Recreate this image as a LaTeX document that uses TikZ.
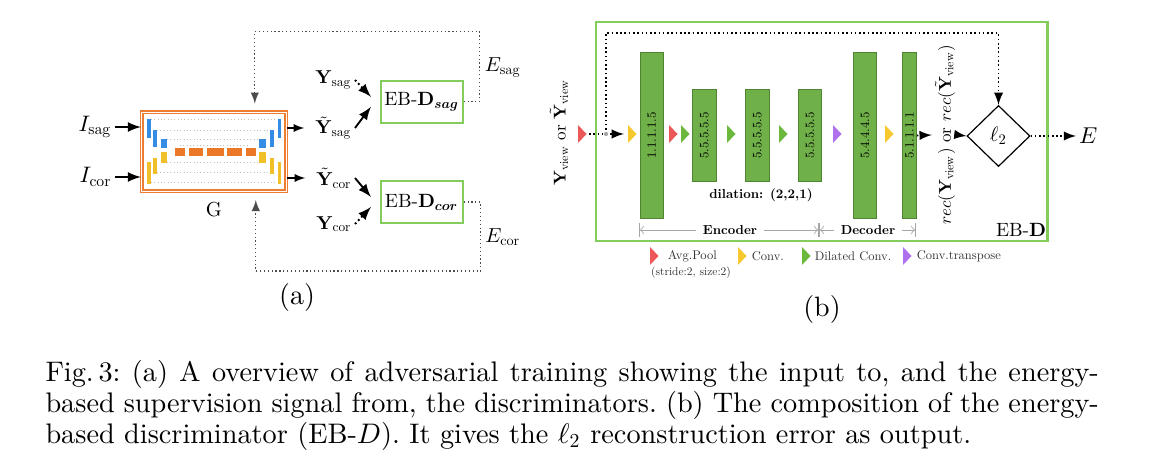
\RequirePackage{fix-cm}
\documentclass[tikz,border=0pt]{standalone}
\usepackage[no-math]{fontspec}
\setmainfont{lmroman10}[Extension=.otf,UprightFont=*-regular,BoldFont=*-bold,ItalicFont=*-italic,BoldItalicFont=*-bolditalic]
\usepackage{amsmath}
\usepackage{amssymb}
\usetikzlibrary{positioning}
\usetikzlibrary{calc}
\usetikzlibrary{shapes.geometric}

% scale the 10pt designs to every size
\DeclareFontShape{OT1}{cmr}{m}{n}{<-> cmr10}{}
\DeclareFontShape{OT1}{cmr}{bx}{n}{<-> cmbx10}{}
\DeclareFontShape{OML}{cmm}{m}{it}{<-> cmmi10}{}
\DeclareFontShape{OML}{cmm}{b}{it}{<-> cmmib10}{}
\DeclareFontShape{OMS}{cmsy}{m}{n}{<-> cmsy10}{}

\definecolor{gorange}{RGB}{237,125,49}
\definecolor{ublue}{RGB}{52,140,228}
\definecolor{uyellow}{RGB}{240,192,40}
\definecolor{uorange}{RGB}{234,120,38}
\definecolor{boxgreen}{RGB}{132,204,92}
\definecolor{barfill}{RGB}{112,176,72}
\definecolor{bardraw}{RGB}{78,132,50}
\definecolor{tred}{RGB}{236,88,88}
\definecolor{tyellow}{RGB}{246,200,46}
\definecolor{tgreen}{RGB}{108,184,60}
\definecolor{tpurple}{RGB}{176,112,236}

\newcommand{\fsz}[1]{\fontsize{#1}{#1}\selectfont}

\begin{document}
\begin{tikzpicture}[x=0.375pt,y=-0.375pt,
  lbl/.style={inner sep=1pt},
  ylbl/.style={inner sep=1pt,font=\fsz{7},anchor=east},
  elbl/.style={inner sep=1pt,font=\fsz{7.6}},
  panel/.style={inner sep=0pt,font=\fsz{10.5}},
  gbox/.style={draw=gorange,double=white,line width=0.55pt,double distance=0.3pt,minimum width=54.1pt,minimum height=29.6pt,inner sep=0pt},
  dbox/.style={draw=boxgreen,line width=0.8pt,minimum width=30.6pt,minimum height=15.6pt,inner sep=0pt,font=\fsz{7.2}},
  ebbox/.style={draw=boxgreen,line width=0.8pt,minimum width=169.3pt,minimum height=82pt,inner sep=0pt},
  bar/.style={rotate=90,draw=bardraw,fill=barfill,line width=0.3pt,minimum width=34.65pt,minimum height=8.75pt,inner sep=0pt,font=\fsz{4.8}},
  view/.style={rotate=90,inner sep=1pt,font=\fsz{6.4}},
  dimtxt/.style={inner sep=2.5pt,font=\fsz{4.9}\bfseries},
  leg/.style={inner sep=0.5pt,font=\fsz{4.7},text=black!80},
  legsm/.style={inner sep=0pt,font=\fsz{4.3},text=black!80},
  inarr/.style={-latex,line width=0.7pt},
  outarr/.style={-latex,line width=0.4pt,shorten >=3pt},
  solarr/.style={-latex,line width=0.7pt},
  dotarr/.style={-latex,line width=0.7pt,densely dotted},
  fbk/.style={-latex,line width=0.45pt,densely dotted,black!70,shorten >=3pt},
  dots/.style={-latex,line width=0.6pt,densely dotted},
  dim/.style={->|,line width=0.3pt,black!35},
  skip/.style={line width=0.25pt,black!25,densely dotted},
  tri/.pic={\fill[#1] (0,-9) -- (8.5,0) -- (0,9) -- cycle;}]
\useasboundingbox (0,0) rectangle (1176,476);

% (a) adversarial training
\node[lbl,anchor=east,font=\fsz{8.4}](Isag) at (115,127){$I_{\mathrm{sag}}$};
\node[lbl,anchor=east,font=\fsz{8.4}](Icor) at (115,177){$I_{\mathrm{cor}}$};
\node[gbox](G) at (213.8,151.8){};
\node[lbl,font=\fsz{7.6}](Glbl) at ($(G)+(0,58)$){G};
\node[ylbl](Ytsag) at (355,128){$\tilde{\mathbf{Y}}_{\mathrm{sag}}$};
\node[ylbl](Ysag) at ($(Ytsag.east)+(0,-48)$){$\mathbf{Y}_{\mathrm{sag}}$};
\node[ylbl](Ytcor) at ($(Ytsag.east)+(0,50)$){$\tilde{\mathbf{Y}}_{\mathrm{cor}}$};
\node[ylbl](Ycor) at ($(Ytsag.east)+(0,96)$){$\mathbf{Y}_{\mathrm{cor}}$};
\node[dbox](Dsag) at (421.8,101.8){EB-$\mathbf{D}_{\boldsymbol{sag}}$};
\node[dbox](Dcor) at ($(Dsag)+(0,100.2)$){EB-$\mathbf{D}_{\boldsymbol{cor}}$};
\node[elbl](Esag) at (503,67){$E_{\mathrm{sag}}$};
\node[elbl](Ecor) at ($(Esag)+(0,170)$){$E_{\mathrm{cor}}$};
\node[panel](pa) at (297,298){(a)};

% generator
\draw[skip] (151,119.5) -- (277,119.5);
\draw[skip] (157,130) -- (270,130);
\draw[skip] (167,139) -- (259,139);
\draw[skip] (180,145) -- (250,145);
\draw[skip] (167,162) -- (259,162);
\draw[skip] (157,172) -- (270,172);
\draw[skip] (151,182) -- (277,182);
\fill[ublue] (147.3,119) rectangle (150.7,138.3);
\fill[ublue] (153.3,130) rectangle (156.7,146.7);
\fill[ublue] (161,139) rectangle (167.3,148.3);
\fill[uyellow] (161,152.3) rectangle (167.3,163.3);
\fill[uyellow] (153.3,158.3) rectangle (156.7,174);
\fill[uyellow] (147.3,161.7) rectangle (150.7,184);
\fill[uorange] (175,147.7) rectangle (185,156);
\fill[uorange] (189,147.7) rectangle (203.3,156);
\fill[uorange] (206.7,147.7) rectangle (224.3,156);
\fill[uorange] (227.3,147.7) rectangle (241.7,156);
\fill[uorange] (246,147.7) rectangle (256,156);
\fill[ublue] (259.3,139) rectangle (265.7,148.3);
\fill[ublue] (270,130) rectangle (274,146.7);
\fill[ublue] (277.7,119) rectangle (280.7,138.3);
\fill[uyellow] (259.3,152.3) rectangle (265.7,163.3);
\fill[uyellow] (270,158.3) rectangle (274,174);
\fill[uyellow] (277.7,161.7) rectangle (280.7,184);

\path
(Isag.east) edge[inarr] (Isag.east -| G.west)
(Icor.east) edge[inarr] (Icor.east -| G.west)
(G.east |- Ytsag) edge[outarr] (Ytsag.west)
(G.east |- Ytcor) edge[outarr] (Ytcor.west)
(Ysag.east) edge[dotarr] ($(Dsag.west)+(-9,-5)$)
(Ytsag.east) edge[solarr] ($(Dsag.west)+(-9,5)$)
(Ytcor.east) edge[solarr] ($(Dcor.west)+(-9,-5)$)
(Ycor.east) edge[dotarr] ($(Dcor.west)+(-9,5)$);
\draw[fbk] (Dsag.east) -| ($(Dsag.east)+(16,-70)$) -| ($(G.north)+(41,0)$);
\draw[fbk] (Dcor.east) -| ($(Dcor.east)+(17,69)$) -| ($(G.south)+(42,0)$);

% (b) EB-D
\node[ebbox](EBD) at (821.8,131.7){};
\node[inner sep=0pt,font=\fsz{7.2}](EBDlbl) at (1021,230){EB-\textbf{D}};
\node[view](Yin) at (559,132.5){$\mathbf{Y}_{\mathrm{view}}$ or $\tilde{\mathbf{Y}}_{\mathrm{view}}$};
\node[bar,minimum width=62.1pt](b1) at (651.7,135.5){1.1.1.1.5};
\node[bar](b2) at ($(b1)+(52.6,0)$){5.5.5.5.5};
\node[bar](b3) at ($(b2)+(53,0)$){5.5.5.5.5};
\node[bar](b4) at ($(b3)+(52.7,0)$){5.5.5.5.5};
\node[bar,minimum width=62.1pt](b5) at ($(b4)+(55,0)$){5.4.4.4.5};
\node[bar,minimum width=62.1pt,minimum height=5.3pt](b6) at ($(b5)+(44.4,0)$){5.1.1.1.1};
\node[view](rec) at (945,135){$rec(\mathbf{Y}_{\mathrm{view}})$ or $rec(\tilde{\mathbf{Y}}_{\mathrm{view}})$};
\node[diamond,draw,line width=0.45pt,minimum width=23.6pt,minimum height=22.9pt,inner sep=0pt,font=\fsz{7.8}](l2) at (998.5,136){$\ell_2$};
\node[elbl,anchor=west,font=\fsz{8.6}](E) at (1076,136){$E$};
\node[dimtxt](dil) at (761,195){dilation: (2,2,1)};
\node[dimtxt](enc) at (730,230){Encoder};
\node[dimtxt](dec) at (868,230){Decoder};

\coordinate (pool0) at (578,134);
\coordinate (conv1) at (628,134);
\coordinate (pool1) at (669,134);
\coordinate (dil1) at (681,134);
\coordinate (dil2) at (727,134);
\coordinate (dil3) at (779,134);
\coordinate (tconv) at (833,134);
\coordinate (conv2) at (885,134);
\coordinate (split) at (606,134);
\coordinate (encL) at (639,230);
\coordinate (encR) at (819,230);
\coordinate (decR) at (916,230);

\pic at (pool0) {tri=tred};
\pic at (conv1) {tri=tyellow};
\pic at (pool1) {tri=tred};
\pic at (dil1) {tri=tgreen};
\pic at (dil2) {tri=tgreen};
\pic at (dil3) {tri=tgreen};
\pic at (tconv) {tri=tpurple};
\pic at (conv2) {tri=tyellow};

\path
($(pool0)+(11,0)$) edge[dots] ($(conv1)+(-4,0)$)
(b6.south) edge[dots] (rec.north)
(rec.south) edge[dots] (l2.west)
(l2.east) edge[dots] (E.west)
(enc.west) edge[dim] (encL)
(enc.east) edge[dim] (encR)
(dec.west) edge[dim] (encR)
(dec.east) edge[dim] (decR);
\draw[dots] (split) -- ($(split)+(0,-101)$) -| (l2.north);
\fill[black!35] (split) circle (0.8pt);

% legend
\pic at (650,256) {tri=tred};
\node[leg,anchor=west](lpool) at (666,256){Avg.Pool};
\node[legsm](lstride) at (691,272.7){(stride:2, size:2)};
\pic at (738,256) {tri=tyellow};
\node[leg,anchor=west](lconv) at (750,256){Conv.};
\pic at (802,256) {tri=tgreen};
\node[leg,anchor=west](ldil) at (813,256){Dilated Conv.};
\pic at (903,256) {tri=tpurple};
\node[leg,anchor=west](ltconv) at (915,256){Conv.transpose};
\node[panel](pb) at (822,310){(b)};

% caption
\node[anchor=base west,inner sep=0pt,text width=395pt,align=justify,font=\fontsize{10.6}{11.6}\selectfont\frenchspacing](cap) at (45,381.7){Fig.\,3: (a) A overview of adversarial training showing the input to, and the energy-\linebreak based supervision signal from, the discriminators. (b) The composition of the energy-\linebreak based discriminator (EB-$D$). It gives the $\ell_2$ reconstruction error as output.};
\end{tikzpicture}
\end{document}
